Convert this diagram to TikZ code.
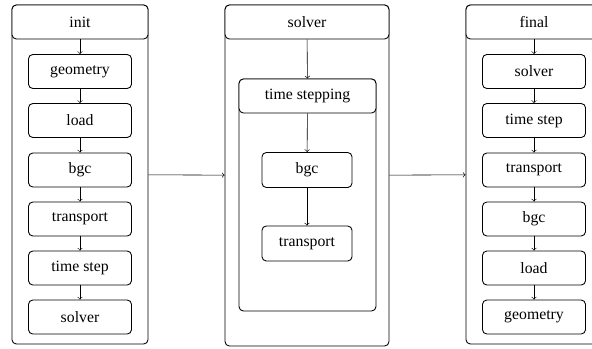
\documentclass[tikz,border=0pt]{standalone}
\usepackage{fontspec}
\setmainfont{Liberation Serif}
\tikzset{
  stage/.style={draw, semithick, rounded corners=3pt, inner sep=0pt,
    minimum width=#1},
  head/.style={stage=#1, fill=white, minimum height=23.3pt},
  task/.style={draw, semithick, rounded corners=3pt, inner sep=0pt,
    minimum width=70.6pt, minimum height=23.3pt},
  subtask/.style={task, minimum width=61.7pt, minimum height=24pt},
}
\begin{document}
\begin{tikzpicture}[x=0.685pt, y=-0.685pt, font=\fontsize{10.8}{13}\selectfont]
    \clip (0,0) rectangle (592,348);
    \def\xa{80}
    \def\xb{307}
    \def\xc{534}
    % init
    \node [stage=93.2pt, minimum height=232.2pt] (A0) at (\xa,174.5) {};
    \node [head=93.2pt] (A0_0) at (\xa,22) {init};
    \node [task] (A0_1) at (\xa,71.5) {geometry};
    \node [task] (A0_2) at (\xa,120.5) {load};
    \node [task] (A0_3) at (\xa,170) {bgc};
    \node [task] (A0_4) at (\xa,219) {transport};
    \node [task] (A0_5) at (\xa,268) {time step};
    \node [task] (A0_6) at (\xa,317) {solver};
    \path (A0_0) edge [->] (A0_1);
    \path (A0_1) edge [->] (A0_2);
    \path (A0_2) edge [->] (A0_3);
    \path (A0_3) edge [->] (A0_4);
    \path (A0_4) edge [->] (A0_5);
    \path (A0_5) edge [->] (A0_6);
    % solver
    \node [stage=112.3pt, minimum height=233.6pt] (A1) at (\xb,175.5) {};
    \node [head=112.3pt] (A1_0) at (\xb,22) {solver};
    \node [stage=93.8pt, minimum height=158.9pt] (L) at (\xb.5,195) {};
    \node [head=93.8pt] (L_0) at (\xb.5,96) {time stepping};
    \node [subtask] (L_1) at (\xb,170) {bgc};
    \node [subtask] (L_2) at (\xb,243.5) {transport};
    \path (A1_0) edge [->] (L_0);
    \path (L_0) edge [->] (L_1);
    \path (L_1) edge [->] (L_2);
    % final
    \node [stage=93.2pt, minimum height=232.2pt] (A2) at (\xc,174.5) {};
    \node [head=93.2pt] (A2_0) at (\xc,22) {final};
    \node [task] (A2_1) at (\xc,71.5) {solver};
    \node [task] (A2_2) at (\xc,120.5) {time step};
    \node [task] (A2_3) at (\xc,170) {transport};
    \node [task] (A2_4) at (\xc,219) {bgc};
    \node [task] (A2_5) at (\xc,268) {load};
    \node [task] (A2_6) at (\xc,317) {geometry};
    \path (A2_0) edge [->] (A2_1);
    \path (A2_1) edge [->] (A2_2);
    \path (A2_2) edge [->] (A2_3);
    \path (A2_3) edge [->] (A2_4);
    \path (A2_4) edge [->] (A2_5);
    \path (A2_5) edge [->] (A2_6);
    % stages
    \path (A0) edge [->] (A1);
    \path (A1) edge [->] (A2);
\end{tikzpicture}
\end{document}
